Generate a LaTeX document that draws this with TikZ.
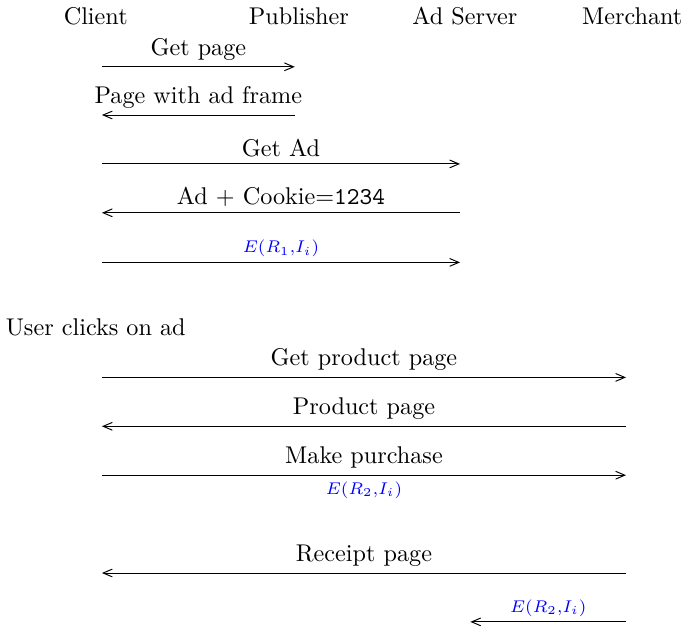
\documentclass[tikz,border=0pt]{standalone}
\usepackage{amssymb}
\usepackage{amsmath}
\usetikzlibrary{arrows}

\begin{document}
\begin{tikzpicture}[scale=1,>=angle 45]

\useasboundingbox (0,0) rectangle (9.99,-9.18);

\node[anchor=base] (client) at (1.39,-0.36) {Client};
\node[anchor=base] (publisher) at (4.34,-0.36) {Publisher};
\node[anchor=base] (adserver) at (6.75,-0.36) {Ad Server};
\node[anchor=base] (merchant) at (9.18,-0.36) {Merchant};

\foreach \i/\y in {1/-0.97,2/-1.67,3/-2.38,4/-3.09,5/-3.81,6/-5.48,7/-6.19,8/-6.90,9/-8.32,10/-9.03}
{
\coordinate (c\i) at (1.48,\y) ;
\coordinate (p\i) at (4.28,\y) ;
\coordinate (a\i) at (6.68,\y) ;
\coordinate (m\i) at (9.09,\y) ;
}
\coordinate (x10) at (6.83,-9.03);

\node[anchor=base] (click) at (1.39,-4.87) {User clicks on ad};

\draw[->] (c1) -- node[above,inner sep=2.5pt] {Get page} (p1);
\draw[->] (p2) -- node[above,inner sep=2.5pt] {Page with ad frame} (c2);
\draw[->] (c3) -- node[above,inner sep=2.5pt] {Get Ad} (a3);
\draw[->] (a4) -- node[above,inner sep=2.5pt] {Ad + Cookie=\texttt{1234}} (c4);
\draw[->] (c5) -- node[above,inner sep=2pt,color=blue] {\scriptsize $E(R_1{,}I_i)$} (a5);
\draw[->] (c6) -- node[above,inner sep=2.5pt] {Get product page} (m6);
\draw[->] (m7) -- node[above,inner sep=2.5pt] {Product page} (c7);
\draw[->] (c8) -- node[above,inner sep=2.5pt] {Make purchase} node[below,inner sep=2.5pt,color=blue] {\scriptsize $E(R_2{,}I_i)$} (m8);
\draw[->] (m9) -- node[above,inner sep=2.5pt] {Receipt page} (c9);
\draw[->] (m10) -- node[above,inner sep=2pt,color=blue] {\scriptsize $E(R_2{,}I_i)$} (x10);
\end{tikzpicture}
\end{document}
